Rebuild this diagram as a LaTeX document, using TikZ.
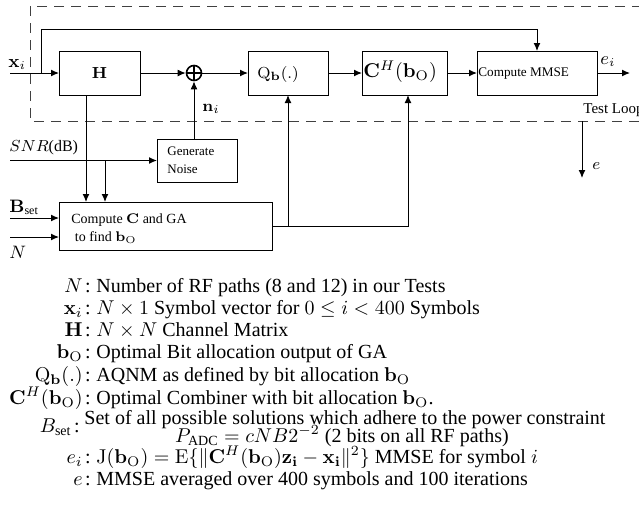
\documentclass[tikz,border=0pt]{standalone}
\usepackage{amsmath}
\usepackage[no-math]{fontspec}
\setmainfont{Liberation Serif}
\usetikzlibrary{arrows.meta,calc}
\begin{document}
\begin{tikzpicture}[x=0.5pt,y=-0.5pt,
  box/.style={draw,line width=0.5pt,outer sep=0pt,inner sep=0pt,minimum height=22pt},
  txt/.style={inner sep=0pt,anchor=west},
  arr/.style={line width=0.5pt,-{Latex[length=4pt,width=3.4pt]}},
  lbl/.style={inner sep=0pt,font=\fontsize{9}{11}\selectfont},
  leg/.style={inner sep=0pt,font=\fontsize{10}{11}\selectfont},
  legc/.style={inner sep=0pt,font=\fontsize{10}{11}\selectfont,anchor=base},
]
\useasboundingbox (0,0) rectangle (639,510);

% test loop
\draw[line width=0.5pt,black!75,dash pattern=on 5pt off 3.5pt] (30,6) rectangle (680,121);
\node[txt,font=\fontsize{7.5}{9}\selectfont] (tl) at (583,110) {Test Loop};

% blocks
\node[box,minimum width=40.5pt] (H) at (99.5,73) {\fontsize{8}{9}\selectfont$\mathbf{H}$};
\node[box,minimum width=40pt] (Q) at (288,73) {};
\node[txt,font=\fontsize{8}{9}\selectfont] (Qt) at (257,74) {$\mathrm{Q}_{\mathbf{b}}(.)$};
\node[box,minimum width=42.5pt] (C) at (404.5,73) {};
\node[txt,font=\fontsize{10}{12}\selectfont] (Ct) at (363,72) {$\mathbf{C}^{H}(\mathbf{b}_{\mathrm{O}})$};
\node[box,minimum width=60pt] (M) at (537,73) {};
\node[txt,font=\fontsize{6.6}{8}\selectfont] (Mt) at (478,74) {Compute MMSE};
\node[circle,draw,line width=0.8pt,minimum size=7.5pt,inner sep=0pt] (S) at (194,73) {};
\draw[line width=0.8pt] (S.north) -- (S.south) (S.west) -- (S.east);
\node[box,minimum width=40pt,minimum height=21.5pt] (GN) at (197,160.5) {};
\node[txt,align=left,font=\fontsize{6.5}{9}\selectfont] (GNt) at (167,160.5) {Generate\\Noise};
\node[box,minimum width=106.5pt,minimum height=24pt] (CG) at (165.5,226) {};
\node[txt,align=left,font=\fontsize{7}{9}\selectfont] (CGt) at (71,229) {Compute $\mathbf{C}$ and GA\\ \ to find $\mathbf{b}_{\mathrm{O}}$};

% free ends
\coordinate (xin) at (10,73);
\coordinate (fb) at (41,73);
\coordinate (fbtop) at (41,29);
\coordinate (eout) at (630,73);
\coordinate (snr) at (10,160.5);
\coordinate (br) at (105,160.5);
\coordinate (hb) at ($(H.south west)+(27,0)$);
\coordinate (bs) at (10,218);
\coordinate (nn) at (10,237);
\coordinate (cb) at ($(C.south)+(3.5,0)$);
\coordinate (etop) at (582,121);
\coordinate (ebot) at (582,178);

% connectors
\draw[arr] (xin) -- (H.west);
\draw[arr] (fb) -- (fbtop) -| (M.north);
\draw[arr] (H.east) -- (S.west);
\draw[arr] (S.east) -- (Q.west);
\draw[arr] (Q.east) -- (C.west);
\draw[arr] (C.east) -- (M.west);
\draw[arr] (M.east) -- (eout);
\draw[arr] (S |- GN.north) -- (S.south);
\draw[arr] (snr) -- (GN.west);
\draw[arr] (br) -- (br |- CG.north);
\draw[arr] (hb) -- (hb |- CG.north);
\draw[arr] (bs) -- (bs -| CG.west);
\draw[arr] (nn) -- (nn -| CG.west);
\draw[arr] (CG.east) -| (cb);
\draw[arr] (CG.east -| Q.south) -- (Q.south);
\draw[arr] (etop) -- (ebot);

% labels
\node[lbl,anchor=west] (lxi) at (8,64) {$\mathbf{x}_i$};
\node[lbl,anchor=west] (lei) at (600,62) {$e_i$};
\node[lbl,anchor=west,font=\fontsize{8}{9}\selectfont] (lni) at (202,109) {$\mathbf{n}_i$};
\node[lbl,anchor=west,font=\fontsize{8}{9}\selectfont] (lsnr) at (9,148) {$SNR$(dB)};
\node[lbl,anchor=west] (lbs) at (9,207) {$\mathbf{B}_{\text{set}}$};
\node[lbl,anchor=west] (lN) at (9,252) {$N$};
\node[lbl,anchor=west,font=\fontsize{8}{9}\selectfont] (le) at (592,166) {$e$};

% legend
\node[leg,anchor=base east] (k1) at (83,292) {$N$};
\node[legc] (c1) at (88,292) {:};
\node[leg,anchor=base west] (t1) at (96,292) {Number of RF paths (8 and 12) in our Tests};

\node[leg,anchor=base east] (k2) at (83,314) {$\mathbf{x}_i$};
\node[legc] (c2) at (88,314) {:};
\node[leg,anchor=base west] (t2) at (96,314) {$N\times 1$ Symbol vector for $0\leq i<400$ Symbols};

\node[leg,anchor=base east] (k3) at (83,336) {$\mathbf{H}$};
\node[legc] (c3) at (88,336) {:};
\node[leg,anchor=base west] (t3) at (96,336) {$N\times N$ Channel Matrix};

\node[leg,anchor=base east] (k4) at (83,358) {$\mathbf{b}_{\mathrm{O}}$};
\node[legc] (c4) at (88,358) {:};
\node[leg,anchor=base west] (t4) at (96,358) {Optimal Bit allocation output of GA};

\node[leg,anchor=base east] (k5) at (83,381) {$\mathrm{Q}_{\mathbf{b}}(.)$};
\node[legc] (c5) at (88,381) {:};
\node[leg,anchor=base west] (t5) at (96,381) {AQNM as defined by bit allocation $\mathbf{b}_{\mathrm{O}}$};

\node[leg,anchor=base east] (k6) at (83,404) {$\mathbf{C}^{H}(\mathbf{b}_{\mathrm{O}})$};
\node[legc] (c6) at (88,404) {:};
\node[leg,anchor=base west] (t6) at (96,404) {Optimal Combiner with bit allocation $\mathbf{b}_{\mathrm{O}}$.};

\node[leg,anchor=base east] (k7) at (72,432) {$B_{\text{set}}$};
\node[legc] (c7) at (77,432) {:};
\node[legc] (t7a) at (345,424) {Set of all possible solutions which adhere to the power constraint};
\node[legc] (t7b) at (342,442) {$P_{\text{ADC}}=cNB2^{-2}$ (2 bits on all RF paths)};

\node[leg,anchor=base east] (k8) at (83,463) {$e_i$};
\node[legc] (c8) at (88,463) {:};
\node[leg,anchor=base west] (t8) at (96,463) {$\mathrm{J}(\mathbf{b}_{\mathrm{O}})=\mathrm{E}\{\|\mathbf{C}^{H}(\mathbf{b}_{\mathrm{O}})\mathbf{z_i}-\mathbf{x_i}\|^2\}$ MMSE for symbol $i$};

\node[leg,anchor=base east] (k9) at (83,485) {$e$};
\node[legc] (c9) at (88,485) {:};
\node[leg,anchor=base west] (t9) at (96,485) {MMSE averaged over 400 symbols and 100 iterations};
\end{tikzpicture}
\end{document}
